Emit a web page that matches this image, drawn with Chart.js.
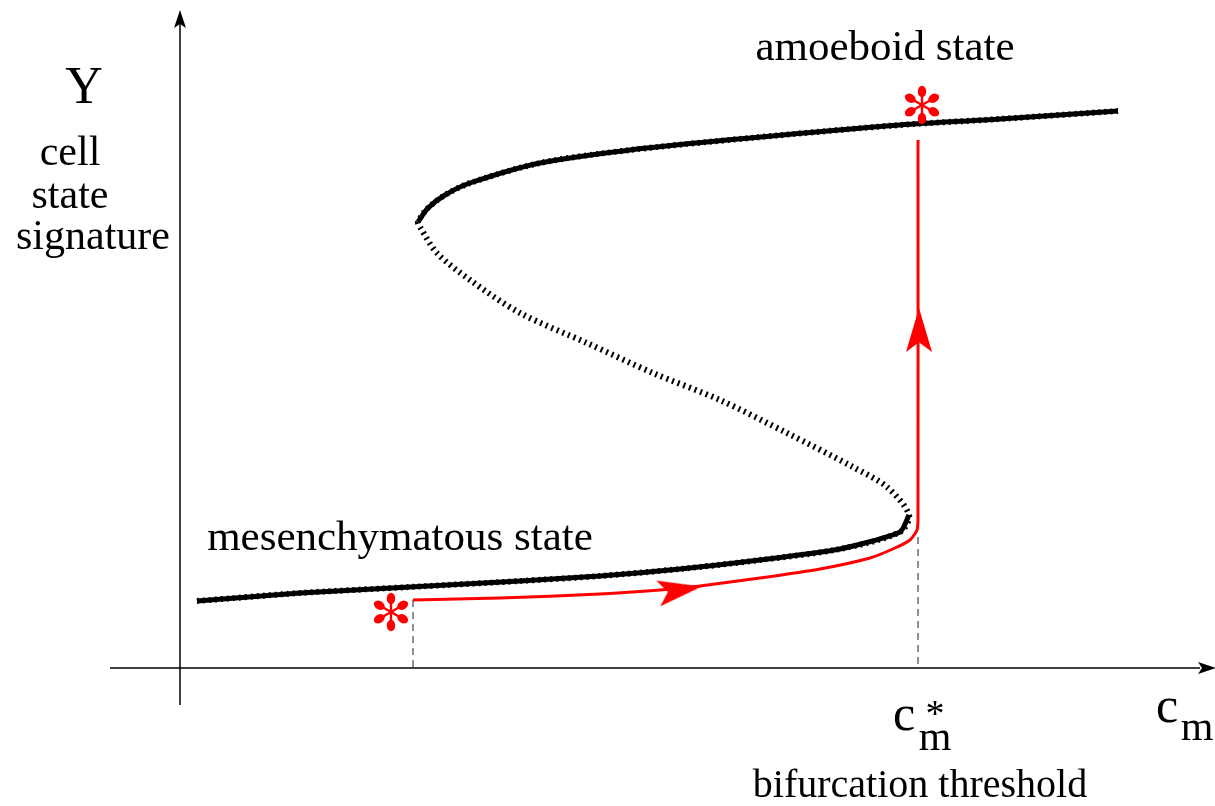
<!DOCTYPE html>
<html>
<head>
<meta charset="utf-8">
<script src="https://cdn.jsdelivr.net/npm/chart.js@4"></script>
<style>
  body { margin: 0; background: #fff; }
  canvas { display: block; }
</style>
</head>
<body>
<canvas id="bif" width="1215" height="806"></canvas>
<script>
// S-shaped response curve, data units (axes cross at 0,0)
const lowerBranch = [[0.17,0.67],[1.2,0.75],[2.3,0.81],[3.4,0.87],[4.2,0.92],[5.0,0.99],[5.8,1.08],[6.6,1.19],[7.2,1.36],[7.29,1.53]];
const middleBranch = [[7.29,1.53],[7.07,1.81],[6.73,2.01],[6.07,2.35],[5.4,2.68],[4.73,2.95],[4.07,3.25],[3.4,3.55],[2.9,3.88],[2.57,4.15],[2.4,4.41],[2.38,4.46]];
const upperBranch = [[2.38,4.46],[2.48,4.6],[2.65,4.73],[2.9,4.85],[3.6,5.05],[4.5,5.18],[5.7,5.3],[7.2,5.43],[8.2,5.49],[9.38,5.57]];

// red trajectory (switch at the threshold)
const redPath = [[2.33,0.68],[3.2,0.7],[4.2,0.74],[4.8,0.78],[5.2,0.82],[5.8,0.9],[6.4,0.99],[6.9,1.1],[7.15,1.2],[7.3,1.28],[7.37,1.38],[7.38,1.5],[7.38,5.28]];
const startDrop = [[2.33,0.68],[2.33,0]];
const thresholdDrop = [[7.38,1.31],[7.38,0]];
const stars = [[2.11,0.56],[7.42,5.63]];
const redArrows = [[5.0,0.78],[7.39,3.38]];
const redArrowAngles = [81, 0];

// axes
const xAxisLine = [[-0.7,0],[10.2,0]];
const yAxisLine = [[0,-0.37],[0,6.45]];
const axisArrows = [[10.27,0],[0,6.49]];
const axisArrowAngles = [90, 0];

const labels = [
  { text: "amoeboid state", x: 7.05, y: 6.08, size: 43 },
  { text: "mesenchymatous state", x: 2.2, y: 1.18, size: 43 },
  { text: "Y", x: -0.96, y: 5.65, size: 52 },
  { text: "cell", x: -1.1, y: 5.03, size: 42 },
  { text: "state", x: -1.1, y: 4.6, size: 42 },
  { text: "signature", x: -0.87, y: 4.19, size: 42 },
  { text: "bifurcation threshold", x: 7.4, y: -1.29, size: 40 },
  { text: "c", x: 7.24, y: -0.62, size: 50 },
  { text: "m", x: 7.55, y: -0.82, size: 42 },
  { text: "*", x: 7.55, y: -0.58, size: 38 },
  { text: "c", x: 9.87, y: -0.54, size: 50 },
  { text: "m", x: 10.17, y: -0.72, size: 42 },
];

const pts = (arr) => arr.map((p) => ({ x: p[0], y: p[1] }));

// filled arrow head pointing up, centered in a square canvas
function makeArrow(color, len, wid) {
  const c = document.createElement("canvas");
  c.width = len; c.height = len;
  const g = c.getContext("2d");
  const x0 = (len - wid) / 2;
  g.fillStyle = color;
  g.beginPath();
  g.moveTo(len / 2, 0);
  g.lineTo(x0 + wid, len);
  g.lineTo(len / 2, len * 0.78);
  g.lineTo(x0, len);
  g.closePath();
  g.fill();
  return c;
}

// six petal asterisk
function makeStar(color) {
  const c = document.createElement("canvas");
  c.width = 44; c.height = 44;
  const g = c.getContext("2d");
  g.translate(22, 22);
  g.fillStyle = color;
  g.strokeStyle = color;
  g.lineWidth = 2.4;
  for (let k = 0; k < 6; k++) {
    g.save();
    g.rotate((k * Math.PI) / 3);
    g.beginPath();
    g.moveTo(0, 0);
    g.lineTo(0, -12);
    g.stroke();
    g.beginPath();
    g.ellipse(0, -13.5, 4.2, 5.8, 0, 0, Math.PI * 2);
    g.fill();
    g.restore();
  }
  return c;
}

const labelPlugin = {
  id: "labels",
  afterDatasetsDraw(chart) {
    const ctx = chart.ctx;
    const xs = chart.scales.x, ys = chart.scales.y;
    ctx.save();
    ctx.fillStyle = "#000";
    ctx.textAlign = "center";
    ctx.textBaseline = "alphabetic";
    labels.forEach((l) => {
      ctx.font = l.size + "px 'Liberation Serif', 'DejaVu Serif', serif";
      ctx.fillText(l.text, xs.getPixelForValue(l.x), ys.getPixelForValue(l.y));
    });
    ctx.restore();
  },
};

const line = (data, color, width, extra) =>
  Object.assign({ data: pts(data), showLine: true, borderColor: color, borderWidth: width, pointRadius: 0, fill: false }, extra || {});

new Chart(document.getElementById("bif"), {
  type: "scatter",
  data: {
    datasets: [
      { data: pts(stars), pointStyle: makeStar("#ff0000"), pointRadius: 5, showLine: false },
      { data: pts(redArrows), pointStyle: makeArrow("#ff0000", 44, 26), pointRotation: redArrowAngles, pointRadius: 5, showLine: false },
      { data: pts(axisArrows), pointStyle: makeArrow("#000", 18, 12), pointRotation: axisArrowAngles, pointRadius: 5, showLine: false },
      line(redPath, "#ff0000", 3, { tension: 0.2 }),
      line(lowerBranch, "#000", 5, { tension: 0.2 }),
      line(upperBranch, "#000", 5, { tension: 0.3 }),
      line(lowerBranch.concat(middleBranch.slice(1), upperBranch.slice(1)), "#000", 6, { tension: 0.3, borderDash: [2, 4] }),
      line(startDrop, "#555", 1.3, { borderDash: [7, 5] }),
      line(thresholdDrop, "#555", 1.3, { borderDash: [7, 5] }),
      line(xAxisLine, "#000", 1.5),
      line(yAxisLine, "#000", 1.5),
    ],
  },
  options: {
    responsive: false,
    animation: false,
    layout: { padding: 0, autoPadding: false },
    plugins: { legend: { display: false }, tooltip: { enabled: false } },
    scales: {
      x: { type: "linear", min: -1.8, max: 10.35, display: false },
      y: { type: "linear", min: -1.38, max: 6.68, display: false },
    },
  },
  plugins: [labelPlugin],
});
</script>
</body>
</html>
